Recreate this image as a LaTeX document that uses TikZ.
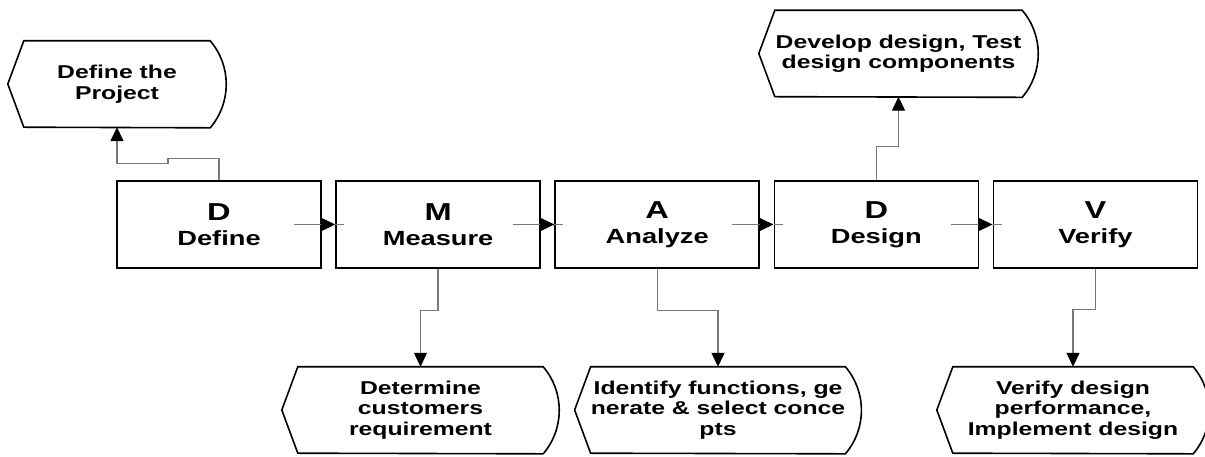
\documentclass[tikz,border=0pt]{standalone}
\usepackage{fontspec}
\setmainfont{Liberation Sans}[FakeStretch=1.33]
\usetikzlibrary{arrows.meta,positioning}
\definecolor{linkgray}{RGB}{120,120,120}
\tikzset{
    %Define standard arrow tip
    >={Triangle[length=14pt,width=13pt,color=black,fill=black]},
    %Define style for boxes
    box/.style={
           rectangle,
           draw=black, line width=1.6pt,
           minimum width=204pt,
           minimum height=87pt,
           align=center,
           font=\bfseries\fontsize{20.5}{25}\selectfont},
    %Define style for the output shapes
    display/.style={
           rectangle,
           inner sep=0pt,
           minimum height=86pt,
           align=center,
           font=\bfseries\fontsize{18.6}{20.5}\selectfont},
    outline/.style={
           draw=black, line width=1.6pt, line join=miter},
    % Define arrow style
    link/.style={
           draw=linkgray,
           line width=1.3pt},
    flow/.style={
           link,
           ->}
}

\begin{document}
\begin{tikzpicture}[x=1pt, y=1pt]
\useasboundingbox (0,0) rectangle (1205,457);
 %nodes
    \node[box] (dfn) at (219,232.5) {{\fontsize{24.5}{25}\selectfont D}\\Define};
    \node[box, right=13.5pt of dfn] (meas) {{\fontsize{24.5}{25}\selectfont M}\\Measure};
    \node[box, right=13.5pt of meas] (ana) {{\fontsize{24.5}{25}\selectfont A}\\Analyze};
    \node[box, right=13.5pt of ana] (des) {{\fontsize{24.5}{25}\selectfont D}\\Design};
    \node[box, right=13.5pt of des] (ver) {{\fontsize{24.5}{25}\selectfont V}\\Verify};

    \node[display, minimum width=186pt] (proj) at (117,373) {Define the\\Project};
    \node[display, minimum width=247pt] (dev) at (898.5,403.5) {Develop design, Test\\design components};
    \node[display, minimum width=245pt] (req) at (420.5,47) {Determine\\customers\\requirement};
    \node[display, minimum width=250pt] (conc) at (718,47) {Identify functions, ge\\nerate \& select conce\\pts};
    \node[display, minimum width=240pt] (impl) at (1073,47) {Verify design\\performance,\\Implement design};

    \foreach \n in {proj,dev,req,conc,impl}
      \draw[outline] ([xshift=-16pt]\n.west) -- (\n.north west) -- (\n.north east)
        arc[start angle=40.5, end angle=-40.5, radius=67pt] -- (\n.south west) -- cycle;
 %edges
    \draw[flow] ([xshift=-28pt]dfn.east) -- (meas.west);
    \draw[flow] ([xshift=-28pt]meas.east) -- (ana.west);
    \draw[flow] ([xshift=-28pt]ana.east) -- (des.west);
    \draw[flow] ([xshift=-28pt]des.east) -- (ver.west);
    \foreach \n in {meas,ana,des,ver}
      \draw[link] (\n.west) -- ++(9pt,0);

    \draw[flow] (dfn.north) -- ++(0,22) -- ++(-51,0) -- ++(0,-5) -| (proj.south);
    \draw[flow] (meas.south) -- ++(0,-42) -| (req.north);
    \draw[flow] (ana.south) -- ++(0,-42) -| (conc.north);
    \draw[flow] (des.north) -- ++(0,34) -| (dev.south);
    \draw[flow] (ver.south) -- ++(0,-41) -| (impl.north);
\end{tikzpicture}
\end{document}
